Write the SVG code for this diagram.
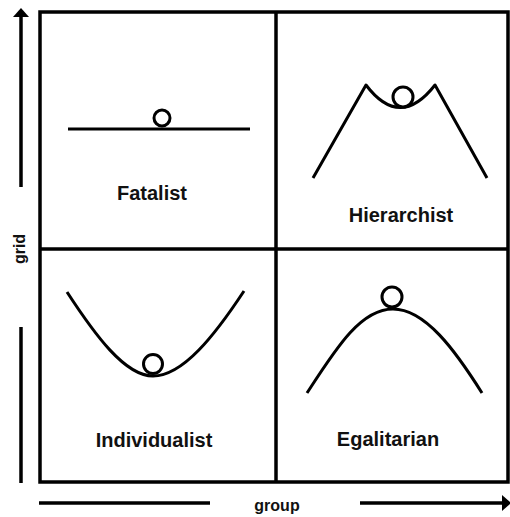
<svg xmlns="http://www.w3.org/2000/svg" width="510" height="517" viewBox="0 0 510 517">
  <style>
    .ln { fill: none; stroke: #000; stroke-width: 3.5; stroke-linecap: butt; }
    .curve { fill: none; stroke: #000; stroke-width: 3; stroke-linejoin: round; }
    .ball { fill: #fff; stroke: #000; stroke-width: 3; }
    .lbl { font-family: "Liberation Sans", Arial, sans-serif; font-weight: bold; font-size: 20px; fill: #111; text-anchor: middle; }
    .axis { font-family: "Liberation Sans", Arial, sans-serif; font-weight: bold; font-size: 16px; fill: #111; text-anchor: middle; }
  </style>
  <rect width="510" height="517" fill="#fff"/>
  <g id="connectors">
    <line class="ln" x1="21" y1="16" x2="21" y2="187" stroke-width="4"/>
    <polygon points="21,8 13,17 29,17" fill="#000"/>
    <line class="ln" x1="21" y1="327" x2="21" y2="483" stroke-width="4"/>
    <line class="ln" x1="39" y1="503" x2="210" y2="503" stroke-width="4"/>
    <line class="ln" x1="360" y1="503" x2="503" y2="503" stroke-width="4"/>
    <polygon points="511,503 502,495 502,511" fill="#000"/>
  </g>
  <g id="frame">
    <rect x="40" y="12" width="468" height="470" class="ln"/>
    <line class="ln" x1="276" y1="12" x2="276" y2="482"/>
    <line class="ln" x1="40" y1="249" x2="508" y2="249"/>
  </g>
  <g id="fatalist">
    <line class="curve" x1="68" y1="129" x2="250" y2="129"/>
    <circle class="ball" cx="162" cy="118" r="8"/>
    <text class="lbl" x="152" y="200">Fatalist</text>
  </g>
  <g id="hierarchist">
    <path class="curve" d="M313,178 L366,85 Q400,130 435,85 L487,178"/>
    <circle class="ball" cx="403" cy="97" r="10"/>
    <text class="lbl" x="401" y="222">Hierarchist</text>
  </g>
  <g id="individualist">
    <path class="curve" d="M67,292 C95,335 125,376 153,376 C183,376 215,335 244,291"/>
    <circle class="ball" cx="153" cy="364" r="9.5"/>
    <text class="lbl" x="154" y="447">Individualist</text>
  </g>
  <g id="egalitarian">
    <path class="curve" d="M307,393 C335,350 360,309 393,309 C425,309 455,350 482,393"/>
    <circle class="ball" cx="392" cy="297" r="10"/>
    <text class="lbl" x="388" y="446">Egalitarian</text>
  </g>
  <g id="axis-labels">
    <text class="axis" x="277" y="511">group</text>
    <text class="axis" transform="translate(25,249) rotate(-90)">grid</text>
  </g>
</svg>
